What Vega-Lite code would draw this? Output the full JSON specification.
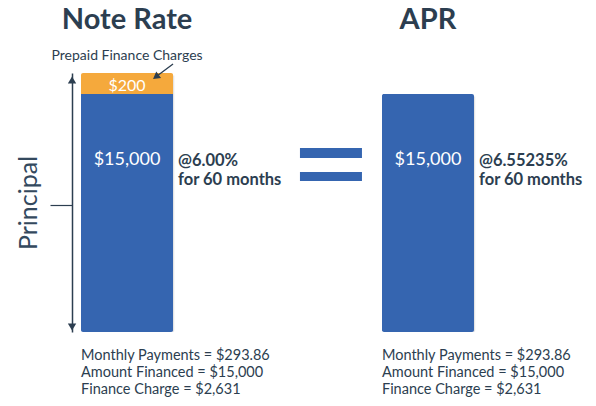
{
  "$schema": "https://vega.github.io/schema/vega-lite/v6.json",
  "width": 524,
  "height": 366,
  "autosize": "none",
  "padding": {"left": 72, "top": 40, "right": 0, "bottom": 0},
  "background": "white",
  "config": {
    "view": {"stroke": null},
    "font": "Lato",
    "text": {"font": "Lato", "color": "#2c3e50"}
  },
  "datasets": {
    "bars": [
      {"rate": "Note Rate", "part": "Principal", "idx": 1, "amount": 15000, "label": "$15,000"},
      {"rate": "Note Rate", "part": "Prepaid Finance Charges", "idx": 2, "amount": 200, "label": "$200"},
      {"rate": "APR", "part": "Principal", "idx": 1, "amount": 15000, "label": "$15,000"}
    ],
    "notes": [
      {"rate": "Note Rate", "amount": 15000, "terms": ["@6.00%", "for 60 months"],
       "summary": ["Monthly Payments = $293.86", "Amount Financed = $15,000", "Finance Charge = $2,631"]},
      {"rate": "APR", "amount": 15000, "terms": ["@6.55235%", "for 60 months"],
       "summary": ["Monthly Payments = $293.86", "Amount Financed = $15,000", "Finance Charge = $2,631"]}
    ],
    "ends": [
      {"rate": "Note Rate", "amount": 15200, "dir": "up"},
      {"rate": "Note Rate", "amount": 0, "dir": "down"}
    ],
    "relation": [{"sign": "="}]
  },
  "layer": [
    {
      "data": {"name": "bars"},
      "mark": {"type": "bar", "color": "#000000", "opacity": 0.1, "xOffset": 1.5, "yOffset": 2.5, "cornerRadius": 2},
      "encoding": {
        "x": {"field": "rate", "type": "nominal", "sort": ["Note Rate", "APR"], "title": null,
          "scale": {"range": [9, 402], "paddingInner": 0.694, "paddingOuter": 0},
          "axis": {"orient": "top", "domain": false, "ticks": false, "tickSize": 0, "labelAngle": 0,
            "labelFontSize": 29, "labelFontWeight": "bold", "labelColor": "#2c3e50", "labelFont": "Lato",
            "labelBaseline": "alphabetic", "labelPadding": 12}},
        "y": {"field": "amount", "type": "quantitative", "stack": "zero", "title": "Principal",
          "scale": {"domain": [0, 15000, 15200], "range": [292, 54, 33], "nice": false, "zero": false},
          "axis": {"labels": false, "grid": false, "values": [8000], "tickSize": 22, "tickColor": "#2c3e50",
            "tickWidth": 1.2, "domainColor": "#2c3e50", "domainWidth": 1.5, "titleFont": "Lato",
            "titleFontSize": 25, "titleFontWeight": "normal", "titleColor": "#34495e", "titlePadding": 8}},
        "order": {"field": "idx", "type": "quantitative"}
      }
    },
    {
      "data": {"name": "bars"},
      "mark": {"type": "bar", "cornerRadius": 2},
      "encoding": {
        "x": {"field": "rate", "type": "nominal", "sort": ["Note Rate", "APR"], "title": null},
        "y": {"field": "amount", "type": "quantitative", "stack": "zero", "title": "Principal"},
        "color": {"field": "part", "type": "nominal", "legend": null,
          "scale": {"domain": ["Principal", "Prepaid Finance Charges"], "range": ["#3565b0", "#f5a93c"]}},
        "order": {"field": "idx", "type": "quantitative"}
      }
    },
    {
      "data": {"name": "bars"},
      "transform": [{"filter": "datum.part === 'Principal'"}],
      "mark": {"type": "text", "fontSize": 18, "color": "white", "baseline": "middle", "dy": 66},
      "encoding": {
        "x": {"field": "rate", "type": "nominal", "sort": ["Note Rate", "APR"], "title": null},
        "y": {"field": "amount", "type": "quantitative", "stack": null, "title": "Principal"},
        "text": {"field": "label"}
      }
    },
    {
      "data": {"name": "bars"},
      "transform": [
        {"joinaggregate": [{"op": "sum", "field": "amount", "as": "total"}], "groupby": ["rate"]},
        {"filter": "datum.part === 'Prepaid Finance Charges'"}
      ],
      "layer": [
        {
          "mark": {"type": "text", "fontSize": 16, "color": "white", "baseline": "middle", "dy": 13},
          "encoding": {"text": {"field": "label"}}
        },
        {
          "mark": {"type": "text", "fontSize": 14, "baseline": "alphabetic", "dy": -13},
          "encoding": {"text": {"field": "part"}}
        },
        {
          "mark": {"type": "point", "filled": true, "opacity": 1, "color": "#2c3e50", "size": 484,
            "xOffset": 36, "yOffset": -1.5,
            "shape": "M0.874,-0.729 L0.944,-0.635 L-0.365,0.347 L-0.435,0.253 Z M-0.909,0.682 L-0.182,0.591 L-0.618,0.009 Z"}
        }
      ],
      "encoding": {
        "x": {"field": "rate", "type": "nominal", "sort": ["Note Rate", "APR"], "title": null},
        "y": {"field": "total", "type": "quantitative", "title": "Principal"}
      }
    },
    {
      "data": {"name": "ends"},
      "transform": [{"filter": "datum.dir === 'up'"}],
      "mark": {"type": "point", "shape": "triangle-up", "filled": true, "opacity": 1, "color": "#2c3e50",
        "size": 70, "xOffset": -55, "yOffset": 7},
      "encoding": {
        "x": {"field": "rate", "type": "nominal", "sort": ["Note Rate", "APR"], "title": null},
        "y": {"field": "amount", "type": "quantitative", "title": "Principal"}
      }
    },
    {
      "data": {"name": "ends"},
      "transform": [{"filter": "datum.dir === 'down'"}],
      "mark": {"type": "point", "shape": "triangle-down", "filled": true, "opacity": 1, "color": "#2c3e50",
        "size": 70, "xOffset": -55, "yOffset": -5},
      "encoding": {
        "x": {"field": "rate", "type": "nominal", "sort": ["Note Rate", "APR"], "title": null},
        "y": {"field": "amount", "type": "quantitative", "title": "Principal"}
      }
    },
    {
      "data": {"name": "notes"},
      "layer": [
        {
          "mark": {"type": "text", "align": "left", "baseline": "alphabetic", "fontSize": 16.5,
            "fontWeight": "bold", "lineHeight": 19, "dx": 51, "dy": 72},
          "encoding": {
            "y": {"field": "amount", "type": "quantitative", "title": "Principal"},
            "text": {"field": "terms"}
          }
        },
        {
          "mark": {"type": "text", "align": "left", "baseline": "alphabetic", "fontSize": 14.5,
            "lineHeight": 17, "dx": -46, "dy": 28},
          "encoding": {
            "y": {"datum": 0, "type": "quantitative"},
            "text": {"field": "summary"}
          }
        }
      ],
      "encoding": {
        "x": {"field": "rate", "type": "nominal", "sort": ["Note Rate", "APR"], "title": null}
      }
    },
    {
      "data": {"name": "relation"},
      "mark": {"type": "point", "filled": true, "opacity": 1, "color": "#3565b0", "size": 3844,
        "xOffset": -97, "yOffset": 71,
        "shape": "M-1,-0.548 H1 V-0.226 H-1 Z M-1,0.226 H1 V0.516 H-1 Z"},
      "encoding": {
        "x": {"datum": "APR", "type": "nominal"},
        "y": {"datum": 15000, "type": "quantitative"}
      }
    }
  ]
}
